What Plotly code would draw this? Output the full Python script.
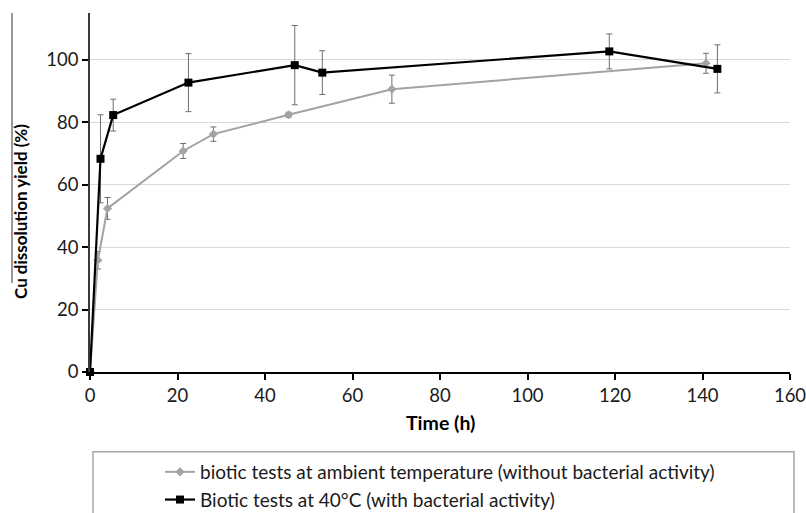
import plotly.graph_objects as go

# Cu dissolution kinetics: ambient-temperature tests vs 40 °C tests
time_amb = [0, 1.8, 4.0, 21.3, 28.2, 45.4, 69.0, 140.8]
yield_amb = [0, 35.8, 52.4, 70.8, 76.2, 82.4, 90.6, 98.9]
err_amb = [0, 2.8, 3.5, 2.4, 2.3, 0.8, 4.5, 3.2]

time_40c = [0, 2.4, 5.3, 22.5, 46.8, 53.1, 118.7, 143.4]
yield_40c = [0, 68.3, 82.3, 92.7, 98.3, 95.9, 102.7, 97.1]
err_40c = [0, 14.1, 5.1, 9.3, 12.7, 7.0, 5.6, 7.7]

name_amb = "biotic tests at ambient temperature (without bacterial activity)"
name_40c = "Biotic tests at 40°C (with bacterial activity)"

x_ticks = [0, 20, 40, 60, 80, 100, 120, 140, 160]
y_ticks = [0, 20, 40, 60, 80, 100]

FONT = "Lato, 'Open Sans', sans-serif"
W, H = 806, 513
L, R, T, B = 90, 16, 13, 141
PH = H - T - B  # plot height in px


def px_x(v):
    """pixel column -> paper x"""
    return (v - L) / (W - L - R)


def px_y(v):
    """pixel row -> paper y"""
    return (H - B - v) / PH


fig = go.Figure()

fig.add_trace(go.Scatter(
    x=time_amb, y=yield_amb, name=name_amb, mode="lines+markers",
    line=dict(color="#a3a3a3", width=2),
    marker=dict(symbol="diamond", size=7, color="#a3a3a3"),
    error_y=dict(type="data", array=err_amb, visible=True,
                 color="#6e6e6e", thickness=1, width=3),
    cliponaxis=False,
))
fig.add_trace(go.Scatter(
    x=time_40c, y=yield_40c, name=name_40c, mode="lines+markers",
    line=dict(color="#000000", width=2.2),
    marker=dict(symbol="square", size=8, color="#000000"),
    error_y=dict(type="data", array=err_40c, visible=True,
                 color="#6e6e6e", thickness=1, width=3),
    cliponaxis=False,
))

fig.update_layout(
    width=W, height=H,
    margin=dict(l=L, r=R, t=T, b=B, autoexpand=False),
    paper_bgcolor="white", plot_bgcolor="white",
    font=dict(family=FONT, size=18, color="#1a1a1a"),
    showlegend=True,
    legend=dict(
        xref="container", yref="container",
        x=160 / W, xanchor="left", y=1 - 453 / H, yanchor="top",
        orientation="v", bgcolor="rgba(0,0,0,0)",
        font=dict(family=FONT, size=19, color="#1a1a1a"),
        itemwidth=30,
    ),
    xaxis=dict(
        range=[0, 160], tickvals=x_ticks, ticktext=[str(v) for v in x_ticks],
        showline=True, linecolor="#000000", linewidth=2,
        ticks="outside", ticklen=6, tickwidth=2, tickcolor="#000000",
        showgrid=False, zeroline=False, automargin=False,
        ticklabeloverflow="allow",
        tickfont=dict(family=FONT, size=18.5, color="#1a1a1a"),
    ),
    yaxis=dict(
        range=[0, 115], tickvals=y_ticks, ticktext=[str(v) for v in y_ticks],
        showline=True, linecolor="#3a3a3a", linewidth=1.5,
        ticks="outside", ticklen=6, tickwidth=2, tickcolor="#000000",
        showgrid=True, gridcolor="#d9d9d9", gridwidth=1, zeroline=False,
        automargin=False,
        tickfont=dict(family=FONT, size=18.5, color="#1a1a1a"),
    ),
    annotations=[
        dict(text="<b>Time (h)</b>", xref="paper", yref="paper",
             x=0.5, y=px_y(422), xanchor="center", yanchor="middle",
             showarrow=False, font=dict(family=FONT, size=19.5, color="#000000")),
        dict(text="<b>Cu dissolution yield (%)</b>", xref="paper", yref="paper",
             x=px_x(20), y=px_y(212), xanchor="center", yanchor="middle",
             textangle=-90, showarrow=False,
             font=dict(family=FONT, size=17, color="#000000")),
    ],
    shapes=[
        # legend frame
        dict(type="rect", xref="paper", yref="paper",
             x0=px_x(93), x1=px_x(794), y0=px_y(451.7), y1=px_y(560),
             line=dict(color="#a6a6a6", width=1.5), fillcolor="rgba(0,0,0,0)"),
        # thin rule at the far left edge
        dict(type="line", xref="paper", yref="paper",
             x0=px_x(12), x1=px_x(12), y0=px_y(283), y1=px_y(13),
             line=dict(color="#333333", width=1)),
    ],
)

fig.write_html("out.html")
